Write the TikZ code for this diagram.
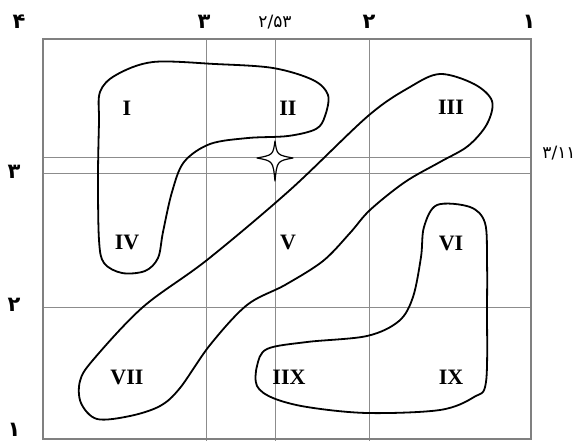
\documentclass[tikz,border=0pt]{standalone}
\usepackage{fontspec}
\setmainfont{Liberation Serif}
\newfontfamily\farsi[Script=Arabic]{DejaVu Sans}

\begin{document}
\begin{tikzpicture}[
    x=1pt, y=-1pt,
    qab/.style={draw=black!50, line width=1.1pt},
    shabake/.style={draw=black!45, line width=0.7pt},
    mahdude/.style={draw=black, line width=1.8pt, line join=round},
    setare/.style={draw=black, fill=white, line width=1.2pt, line join=round},
    rumi/.style={font=\fontsize{22}{22}\selectfont\bfseries, inner sep=0pt},
    adad/.style={font=\farsi\fontsize{21}{21}\selectfont\bfseries, inner sep=0pt},
    adadriz/.style={font=\farsi\fontsize{17}{17}\selectfont, inner sep=0pt}
  ]
    \useasboundingbox (0,0) rectangle (581,441);
    % frame and grid
    \draw[shabake] (206,39) -- (206,441);
    \draw[shabake] (275,39) -- (275,441);
    \draw[shabake] (369,39) -- (369,441);
    \draw[shabake] (43,157) -- (531,157);
    \draw[shabake] (43,173) -- (531,173);
    \draw[shabake] (43,307) -- (531,307);
    \draw[qab] (43,439) -- (43,39) -- (531,39) -- (531,439) -- cycle;
    % axis values
    \node[adad] (x4) at (19,22) {۴};
    \node[adad] (x3) at (204,22) {۳};
    \node[adadriz] (x253) at (275,22) {۲/۵۳};
    \node[adad] (x2) at (369,22) {۲};
    \node[adad] (x1) at (529,22) {۱};
    \node[adad] (y3) at (14,172) {۳};
    \node[adad] (y2) at (14,305) {۲};
    \node[adad] (y1) at (14,430) {۱};
    \node[adadriz] (y311) at (559,153) {۳/۱۱};
    % regions
    \draw[mahdude] plot[smooth cycle, tension=0.55] coordinates {
      (100,92) (116,75) (153,62) (215,64) (273,68) (313,80) (328,95)
      (325,116) (316,129) (288,136) (248,138) (210,144) (184,162)
      (172,192) (163,232) (158,258) (145,271) (122,273) (104,263)
      (99,240) (98,177) (99,122)};
    \draw[mahdude] plot[smooth cycle, tension=0.55] coordinates {
      (440,74) (474,84) (492,101) (487,124) (468,146) (440,162)
      (405,182) (370,210) (350,233) (323,261) (285,285) (247,305)
      (210,345) (180,388) (160,406) (130,416) (97,419) (81,403)
      (80,381) (93,360) (143,307) (207,260) (290,190) (368,116)
      (410,87)};
    \draw[mahdude] plot[smooth cycle, tension=0.55] coordinates {
      (437,205) (470,207) (485,223) (487,262) (487,307) (486,382)
      (474,397) (440,410) (367,413) (307,407) (273,398) (257,386)
      (257,366) (267,349) (307,342) (367,336) (399,321) (413,297)
      (421,257) (424,227)};
    % star
    \draw[setare] (275,141) .. controls (277,155) .. (293,158)
      .. controls (277,161) .. (275,181)
      .. controls (273,161) .. (257,158)
      .. controls (273,155) .. cycle;
    % labels
    \node[rumi] (m1) at (127,108) {I};
    \node[rumi] (m2) at (288,108) {II};
    \node[rumi] (m3) at (451,107) {III};
    \node[rumi] (m4) at (127,242) {IV};
    \node[rumi] (m5) at (288,242) {V};
    \node[rumi] (m6) at (451,243) {VI};
    \node[rumi] (m7) at (127,377) {VII};
    \node[rumi] (m8) at (289,377) {IIX};
    \node[rumi] (m9) at (451,377) {IX};
  \end{tikzpicture}
\end{document}
